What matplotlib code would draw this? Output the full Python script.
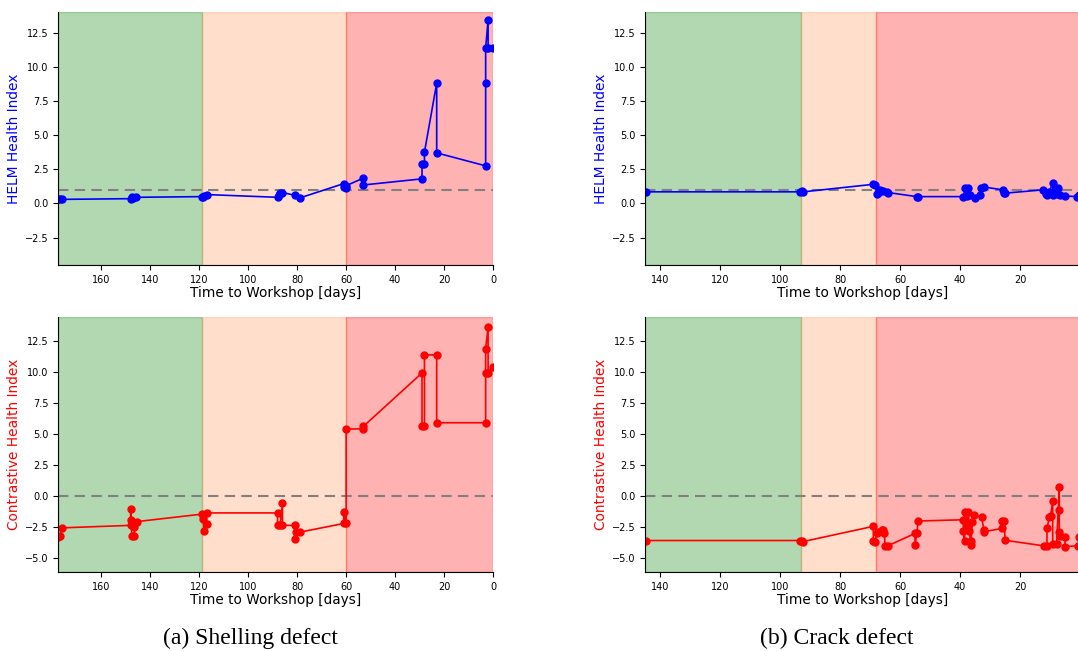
import numpy as np
import matplotlib
matplotlib.use("Agg")
import matplotlib.pyplot as plt

# shelling defect (a)
shell_days = [177.5, 177.0, 176.0, 148.0, 147.5, 147.0, 146.0, 119.0, 118.5, 118.0, 117.0,
              88.0, 87.5, 87.0, 86.0, 81.0, 79.0, 61.0, 61.0, 60.0, 60.0, 53.0, 53.0,
              29.0, 29.0, 28.0, 28.0, 23.0, 23.0, 3.0, 3.0, 3.0, 2.0, 2.0, 0.2]
shell_helm = [0.35, 0.3, 0.3, 0.35, 0.5, 0.4, 0.45, 0.5, 0.45, 0.55, 0.65,
              0.45, 0.65, 0.75, 0.8, 0.6, 0.4, 1.45, 1.2, 1.15, 1.3, 1.85, 1.35,
              1.8, 2.9, 2.9, 3.75, 8.8, 3.7, 2.75, 8.8, 11.4, 13.4, 11.4, 11.4]

shell_c_days = [177.5, 177.0, 176.0, 148.0, 148.0, 148.0, 147.5, 146.5, 146.5, 145.5,
                119.0, 118.5, 118.0, 117.0, 117.0, 88.0, 88.0, 87.0, 86.0, 86.0,
                81.0, 81.0, 80.5, 79.0, 61.0, 61.0, 60.0, 60.0, 53.0, 53.0,
                29.0, 29.0, 28.0, 28.0, 23.0, 23.0, 3.0, 3.0, 3.0, 2.0, 2.0, 0.2]
shell_contr = [-3.25, -3.2, -2.55, -2.35, -1.0, -1.95, -3.2, -3.2, -2.5, -2.05,
               -1.45, -1.8, -2.8, -2.25, -1.35, -1.35, -2.35, -2.35, -0.55, -2.35,
               -2.35, -3.45, -2.9, -2.9, -2.2, -1.3, -2.2, 5.4, 5.4, 5.6,
               9.9, 5.6, 5.6, 11.35, 11.35, 5.9, 5.9, 9.9, 11.85, 13.6, 9.9, 10.4]

# crack defect (b)
crack_days = [144.7, 93.3, 92.6, 92.2, 68.9, 68.3, 67.8, 67.2, 66.7, 65.6, 64.4, 64.0,
              54.4, 53.9, 38.9, 38.3, 37.8, 37.2, 36.7, 35.0, 33.3, 33.1, 31.9,
              25.8, 25.5, 25.0, 12.2, 11.5, 11.1, 10.2, 9.1, 9.0, 8.5, 7.8, 7.2,
              6.7, 5.0, 1.1, 0.3]
crack_helm = [0.85, 0.85, 0.88, 0.85, 1.4, 1.35, 0.7, 0.8, 0.95, 0.9, 0.85, 0.8,
              0.5, 0.5, 0.5, 1.1, 0.55, 1.15, 0.6, 0.4, 0.65, 1.1, 1.2,
              1.0, 0.8, 0.75, 1.0, 0.7, 0.6, 0.85, 1.5, 0.6, 1.0, 0.7, 1.1,
              0.6, 0.55, 0.5, 0.6]

crack_c_days = [144.7, 93.3, 92.6, 92.2, 68.9, 68.9, 68.3, 67.8, 67.2, 66.1, 65.6, 65.2,
                65.0, 64.1, 55.0, 55.0, 54.3, 54.0, 38.9, 38.9, 38.5, 38.3, 37.5, 37.2,
                36.9, 36.5, 36.3, 36.0, 35.4, 32.8, 32.0, 31.9, 25.9, 25.9, 25.2, 25.0,
                12.0, 11.0, 11.0, 10.2, 9.8, 9.1, 9.1, 7.8, 6.9, 6.9, 6.9, 6.6,
                5.0, 5.0, 0.6, 0.3]
crack_contr = [-3.57, -3.57, -3.6, -3.65, -2.43, -3.6, -3.7, -3.0, -2.85, -2.75, -2.7, -2.95,
               -4.0, -4.0, -3.0, -3.9, -2.95, -2.0, -1.9, -2.8, -3.6, -1.3, -2.4, -1.3,
               -2.8, -3.6, -3.9, -2.1, -1.5, -1.7, -2.75, -2.85, -2.6, -2.0, -2.0, -3.55,
               -4.0, -4.0, -2.6, -1.7, -1.6, -0.38, -3.85, -3.85, 0.7, -1.08, -2.9, -3.2,
               -3.3, -4.05, -4.0, -3.3]

# zones: (start, green->orange, orange->red)
shell_zones = (177.7, 119, 60)
crack_zones = (145, 93, 68)

fig = plt.figure(figsize=(10.78, 6.51), dpi=100)

def panel(rect, days, vals, zones, color, ylabel, thresh, ylim):
    ax = fig.add_axes(rect)
    start, z1, z2 = zones
    ax.axvspan(start, z1, color="green", alpha=0.3)
    ax.axvspan(z1, z2, color="#ff9455", alpha=0.3)
    ax.axvspan(z2, 0, color="red", alpha=0.3)
    ax.axhline(thresh, color="gray", linestyle="--", linewidth=1.5, dashes=(5, 3))
    ax.plot(days, vals, "-o", color=color, markersize=5, linewidth=1.2)
    ax.set_xlim(start, 0)
    ax.set_ylim(*ylim)
    ax.spines["top"].set_visible(False)
    ax.spines["right"].set_visible(False)
    ax.tick_params(labelsize=7)
    ax.set_xlabel("Time to Workshop [days]", fontsize=9.8, labelpad=1)
    ax.set_ylabel(ylabel, color=color, fontsize=9.9, labelpad=2.5)
    return ax

W, H = 1078, 651
def rect(x0, y0, x1, y1):
    return [x0 / W, 1 - y1 / H, (x1 - x0) / W, (y1 - y0) / H]

helm_ylim = (-4.5, 14.0)
contr_ylim = (-6.1, 14.4)

panel(rect(58, 12, 493, 265), shell_days, shell_helm, shell_zones, "blue", "HELM Health Index", 1.0, helm_ylim)
panel(rect(58, 317, 493, 572), shell_c_days, shell_contr, shell_zones, "red", "Contrastive Health Index", 0.0, contr_ylim)
panel(rect(645, 12, 1080, 265), crack_days, crack_helm, crack_zones, "blue", "HELM Health Index", 1.0, helm_ylim)
panel(rect(645, 317, 1080, 572), crack_c_days, crack_contr, crack_zones, "red", "Contrastive Health Index", 0.0, contr_ylim)

fig.text(250 / W, 1 - 638 / H, "(a) Shelling defect", family="Liberation Serif", fontsize=17, ha="center", va="center")
fig.text(837 / W, 1 - 638 / H, "(b) Crack defect", family="Liberation Serif", fontsize=17, ha="center", va="center")

fig.savefig("out.png", dpi=100)
